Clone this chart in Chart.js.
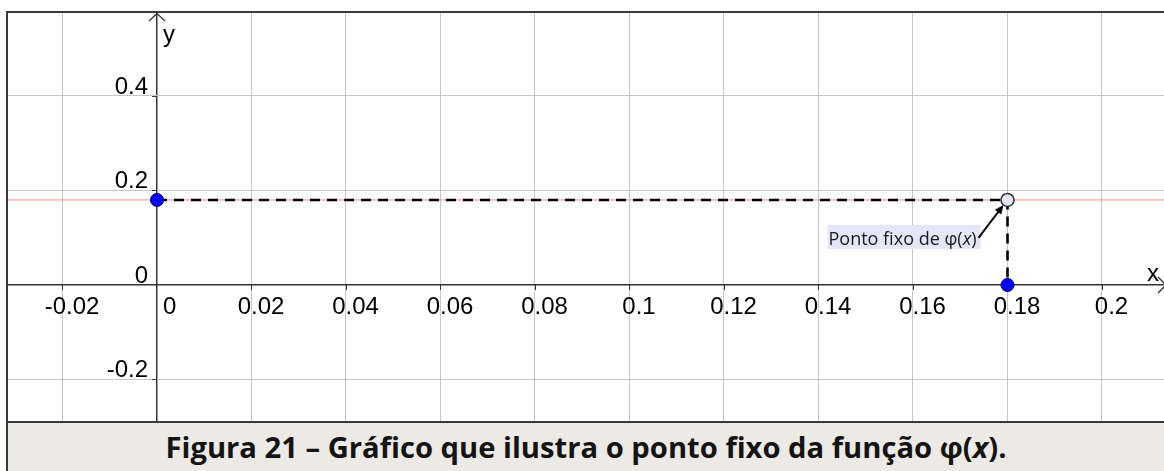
<!DOCTYPE html>
<html lang="pt">
<head>
<meta charset="utf-8">
<title>Ponto fixo da função φ(x)</title>
<script src="https://cdn.jsdelivr.net/npm/chart.js@4.4.1/dist/chart.umd.min.js"></script>
<style>
  html, body { margin: 0; padding: 0; background: #ffffff; }
  body { width: 1164px; height: 471px; position: relative; overflow: hidden; }
  #frame {
    position: absolute; left: 6px; top: 11px; width: 1158px; height: 460px;
    border-left: 2px solid #3a3a3a; border-top: 2px solid #3a3a3a;
  }
  #plot { position: absolute; left: 0; top: 0; width: 1156px; height: 408px; }
  #caption {
    position: absolute; left: 0; top: 408px; width: 1156px; height: 49px;
    border-top: 2px solid #3a3a3a; background: #edeae6;
    font-family: "Open Sans", "Noto Sans", sans-serif; font-weight: 700;
    font-size: 29.2px; color: #141414; text-align: center; line-height: 49px;
  }
</style>
</head>
<body>
<div id="frame">
  <div id="plot"><canvas id="chart"></canvas></div>
  <div id="caption">Figura 21 – Gráfico que ilustra o ponto fixo da função φ(<i>x</i>).</div>
</div>
<script>
// Fixed point of φ: φ(p) = p
const fixValue = 0.18;

// Visible window of the plane
const xRange = [-0.031534, 0.213122];
const yRange = [-0.287831, 0.575661];

// Tick positions and their labels
const xTicks = [-0.02, 0, 0.02, 0.04, 0.06, 0.08, 0.1, 0.12, 0.14, 0.16, 0.18, 0.2];
const xTickLabels = ['-0.02', '0', '0.02', '0.04', '0.06', '0.08', '0.1', '0.12', '0.14', '0.16', '0.18', '0.2'];
const yTicks = [-0.2, 0, 0.2, 0.4];
const yTickLabels = ['-0.2', '0', '0.2', '0.4'];

// Marks
const levelLine = [{ x: xRange[0], y: fixValue }, { x: xRange[1], y: fixValue }];
const guidePath = [{ x: 0, y: fixValue }, { x: fixValue, y: fixValue }, { x: fixValue, y: 0 }];
const projections = [{ x: 0, y: fixValue }, { x: fixValue, y: 0 }];
const fixedPoint = [{ x: fixValue, y: fixValue }];
const annotationText = ['Ponto fixo de φ(', 'x', ')'];

const AXIS_COLOR = '#333333';
const GRID_COLOR = '#c6c6c6';
const TICK_FONT = '24px "Liberation Sans", Arial, sans-serif';
const NOTE_FONT = '18px "Open Sans", "Noto Sans", sans-serif';
const NOTE_FONT_IT = 'italic 18px "Open Sans", "Noto Sans", sans-serif';

const gridOpts = {
  color: c => (c.tick && c.tick.value === 0 ? AXIS_COLOR : GRID_COLOR),
  lineWidth: c => (c.tick && c.tick.value === 0 ? 1.5 : 1),
  drawTicks: false
};

// Axes decorations: tick marks, labels, arrows, axis names, annotation
const axesDecor = {
  id: 'axesDecor',
  beforeDatasetsDraw(chart) {
    const { ctx, scales: { x, y }, chartArea } = chart;
    const x0 = x.getPixelForValue(0);
    const y0 = y.getPixelForValue(0);
    ctx.save();
    ctx.strokeStyle = AXIS_COLOR;
    ctx.fillStyle = '#000';
    ctx.lineWidth = 1;
    ctx.font = TICK_FONT;

    // x ticks and labels
    ctx.textBaseline = 'alphabetic';
    xTicks.forEach((v, i) => {
      const px = x.getPixelForValue(v);
      if (v !== 0) {
        ctx.beginPath();
        ctx.moveTo(Math.round(px) + 0.5, y0);
        ctx.lineTo(Math.round(px) + 0.5, y0 + 5);
        ctx.stroke();
        ctx.textAlign = 'center';
        ctx.fillText(xTickLabels[i], px + 9.5, y0 + 29);
      } else {
        ctx.textAlign = 'left';
        ctx.fillText(xTickLabels[i], px + 6, y0 + 29);
      }
    });

    // y ticks and labels
    yTicks.forEach((v, i) => {
      const py = y.getPixelForValue(v);
      if (v !== 0) {
        ctx.beginPath();
        ctx.moveTo(x0 - 5, Math.round(py) + 0.5);
        ctx.lineTo(x0, Math.round(py) + 0.5);
        ctx.stroke();
      }
      ctx.textAlign = 'right';
      ctx.fillText(yTickLabels[i], x0 - 9, py - 2);
    });

    // axis arrows
    ctx.lineWidth = 1.3;
    ctx.beginPath();
    ctx.moveTo(x0 - 8, chartArea.top + 8);
    ctx.lineTo(x0, chartArea.top + 0.5);
    ctx.lineTo(x0 + 8, chartArea.top + 8);
    ctx.stroke();
    ctx.beginPath();
    ctx.moveTo(chartArea.right - 6, y0 - 8);
    ctx.lineTo(chartArea.right + 2, y0);
    ctx.lineTo(chartArea.right - 6, y0 + 8);
    ctx.stroke();

    // axis names
    ctx.textAlign = 'left';
    ctx.fillText('y', x0 + 6, chartArea.top + 29);
    ctx.fillText('x', chartArea.right - 17, y0 - 4);
    ctx.restore();
  },
  afterDatasetsDraw(chart) {
    const { ctx, scales: { x, y } } = chart;
    const px = x.getPixelForValue(fixValue);
    const py = y.getPixelForValue(fixValue);
    ctx.save();
    // label box
    const left = px - 180, top = py + 25, w = 153, h = 24;
    ctx.fillStyle = '#e6e6fa';
    ctx.fillRect(left, top, w, h);
    ctx.fillStyle = '#1a1a1a';
    ctx.textBaseline = 'alphabetic';
    ctx.textAlign = 'left';
    let tx = left + 1;
    const base = py + 45;
    ctx.font = NOTE_FONT;
    ctx.fillText(annotationText[0], tx, base);
    tx += ctx.measureText(annotationText[0]).width;
    ctx.font = NOTE_FONT_IT;
    ctx.fillText(annotationText[1], tx, base);
    tx += ctx.measureText(annotationText[1]).width;
    ctx.font = NOTE_FONT;
    ctx.fillText(annotationText[2], tx, base);

    // arrow from label to the point
    const sx = left + w - 2, sy = top + 13;
    const ex = px - 4, ey = py + 5;
    const ang = Math.atan2(ey - sy, ex - sx);
    ctx.strokeStyle = '#000';
    ctx.lineWidth = 2;
    ctx.beginPath();
    ctx.moveTo(sx, sy);
    ctx.lineTo(ex - 6 * Math.cos(ang), ey - 6 * Math.sin(ang));
    ctx.stroke();
    ctx.fillStyle = '#000';
    ctx.beginPath();
    ctx.moveTo(ex, ey);
    ctx.lineTo(ex - 9 * Math.cos(ang) + 4 * Math.sin(ang), ey - 9 * Math.sin(ang) - 4 * Math.cos(ang));
    ctx.lineTo(ex - 9 * Math.cos(ang) - 4 * Math.sin(ang), ey - 9 * Math.sin(ang) + 4 * Math.cos(ang));
    ctx.closePath();
    ctx.fill();
    ctx.restore();
  }
};

new Chart(document.getElementById('chart'), {
  type: 'scatter',
  data: {
    datasets: [
      { data: levelLine, showLine: true, borderColor: '#ff8a8a', borderWidth: 1, pointRadius: 0, order: 4 },
      { data: guidePath, showLine: true, borderColor: '#000000', borderWidth: 2.6, borderDash: [10, 7], pointRadius: 0, order: 3 },
      { data: projections, pointRadius: 6.5, pointBackgroundColor: '#0000ff', pointBorderColor: '#000066', pointBorderWidth: 1, order: 2 },
      { data: fixedPoint, pointRadius: 6.5, pointBackgroundColor: '#e6e6f6', pointBorderColor: '#333333', pointBorderWidth: 1.5, order: 1 }
    ]
  },
  options: {
    responsive: true,
    maintainAspectRatio: false,
    animation: false,
    layout: { padding: 0, autoPadding: false },
    plugins: { legend: { display: false }, tooltip: { enabled: false } },
    scales: {
      x: {
        type: 'linear', min: xRange[0], max: xRange[1],
        afterBuildTicks: s => { s.ticks = xTicks.map(v => ({ value: v })); },
        afterFit: s => { s.height = 0; },
        ticks: { display: false },
        grid: gridOpts,
        border: { display: false }
      },
      y: {
        type: 'linear', min: yRange[0], max: yRange[1],
        afterBuildTicks: s => { s.ticks = yTicks.map(v => ({ value: v })); },
        afterFit: s => { s.width = 0; },
        ticks: { display: false },
        grid: gridOpts,
        border: { display: false }
      }
    }
  },
  plugins: [axesDecor]
});
</script>
</body>
</html>
